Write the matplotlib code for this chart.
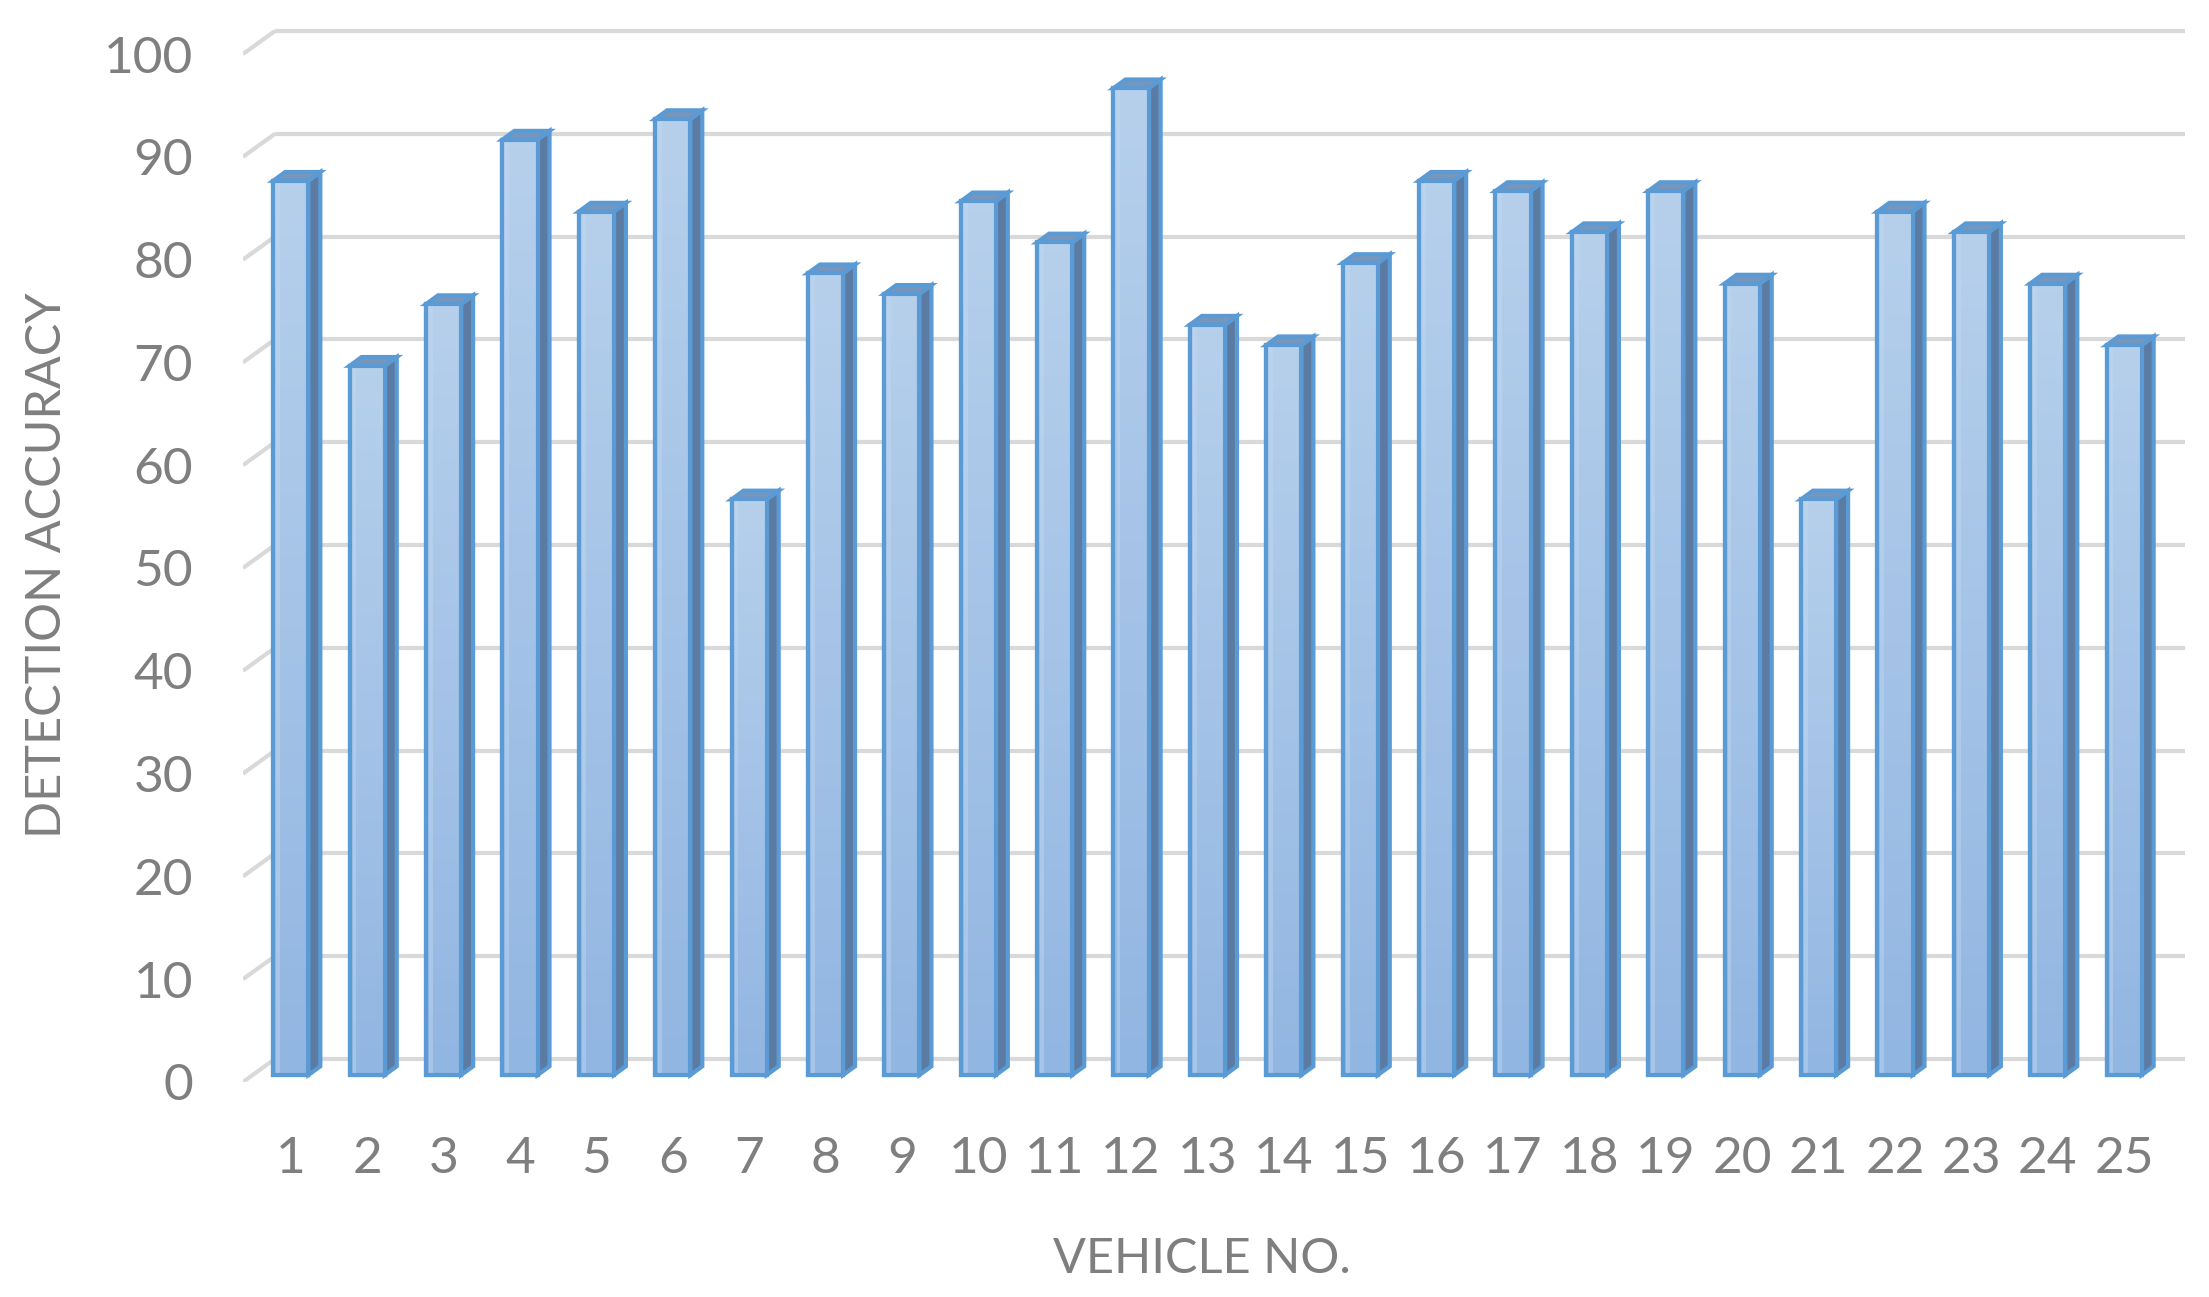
import matplotlib
matplotlib.use("Agg")
import matplotlib.pyplot as plt
import numpy as np
from matplotlib.patches import Polygon
from matplotlib.colors import LinearSegmentedColormap

vehicles = list(range(1, 26))
accuracy = [87, 69, 75, 91, 84, 93, 56, 78, 76, 85, 81, 96, 73, 71, 79,
            87, 86, 82, 86, 77, 56, 84, 82, 77, 71]
yticks = [0, 10, 20, 30, 40, 50, 60, 70, 80, 90, 100]

# fake 3d: depth of the floor and of each bar, in data units
floor_dx, floor_dy = 0.419, 2.24
bar_pos = 0.3            # bars sit 30% back into the floor
bar_w = 0.46
bar_dx, bar_dy = 0.157, 0.85

text_col = "#7f7f7f"
font = dict(family=["Lato", "DejaVu Sans"], weight="normal", color=text_col)

fig = plt.figure(figsize=(22.09, 12.97), dpi=100)
ax = fig.add_axes([0.1100, 0.1658, 0.8790, 0.8177])

x0 = 0.5 - bar_pos * floor_dx
x1 = 25.5 + (1 - bar_pos) * floor_dx
back_dx = (1 - bar_pos) * floor_dx
back_dy = (1 - bar_pos) * floor_dy
front_dx = -bar_pos * floor_dx
front_dy = -bar_pos * floor_dy

# back wall gridlines and left wall diagonals
for v in yticks:
    ax.plot([0.5 + back_dx, 25.5 + back_dx], [v + back_dy, v + back_dy],
            color="#d9d9d9", lw=3, zorder=1, solid_capstyle="butt")
    ax.plot([0.5 + front_dx, 0.5 + back_dx], [v + front_dy, v + back_dy],
            color="#d9d9d9", lw=3, zorder=1, solid_capstyle="butt")

grad = LinearSegmentedColormap.from_list("g", ["#92b6e2", "#b6d0ec"])
edge = "#5b9bd5"
lw = 3.0

bars = ax.bar(vehicles, accuracy, width=bar_w, color="#a3c2e8",
              edgecolor=edge, linewidth=lw, zorder=3)
for b, x, v in zip(bars, vehicles, accuracy):
    im = ax.imshow(np.linspace(0, 1, 100).reshape(-1, 1), cmap=grad,
                   origin="lower", aspect="auto", zorder=3.1,
                   extent=[x - bar_w / 2, x + bar_w / 2, 0, v])
    im.set_clip_path(b)
    # lighter stripe on the left side of the front face
    ax.add_patch(Polygon([(x - bar_w / 2 + 0.04, 0), (x - bar_w / 2 + 0.09, 0),
                          (x - bar_w / 2 + 0.09, v), (x - bar_w / 2 + 0.04, v)],
                         closed=True, facecolor="#c2d8f0", alpha=0.45,
                         edgecolor="none", zorder=3.2))
    ax.add_patch(Polygon([(x - bar_w / 2, 0), (x + bar_w / 2, 0),
                          (x + bar_w / 2, v), (x - bar_w / 2, v)],
                         closed=True, fill=False, edgecolor=edge,
                         linewidth=lw, zorder=3.3))
    side = [(x + bar_w / 2, 0), (x + bar_w / 2 + bar_dx, bar_dy),
            (x + bar_w / 2 + bar_dx, v + bar_dy), (x + bar_w / 2, v)]
    ax.add_patch(Polygon(side, closed=True, facecolor="#5c7ba3",
                         edgecolor=edge, linewidth=lw, zorder=2.9))
    top = [(x - bar_w / 2, v), (x + bar_w / 2, v),
           (x + bar_w / 2 + bar_dx, v + bar_dy), (x - bar_w / 2 + bar_dx, v + bar_dy)]
    ax.add_patch(Polygon(top, closed=True, facecolor="#7896bc",
                         edgecolor=edge, linewidth=lw, zorder=2.9))

ax.set_xlim(x0, x1)
ax.set_ylim(front_dy, 102.5)

ax.set_yticks(np.array(yticks) + front_dy)
ax.set_yticklabels([str(t) for t in yticks])
ax.set_xticks(vehicles)
ax.set_xticklabels([str(v) for v in vehicles])
ax.tick_params(axis="y", length=0, pad=36)
ax.tick_params(axis="x", length=0, pad=39)
for lbl in ax.get_xticklabels() + ax.get_yticklabels():
    lbl.set_fontfamily(["Lato", "DejaVu Sans"])
    lbl.set_fontweight("normal")
    lbl.set_fontsize(37)
    lbl.set_color(text_col)
for s in ax.spines.values():
    s.set_visible(False)

fig.text(0.0213, 0.5644, "DETECTION ACCURACY", rotation=90, ha="center",
         va="center", fontsize=35, **font)
fig.text(0.5443, 0.0290, "VEHICLE NO.", ha="center", va="center",
         fontsize=35, **font)

fig.savefig("out.png", dpi=100)
